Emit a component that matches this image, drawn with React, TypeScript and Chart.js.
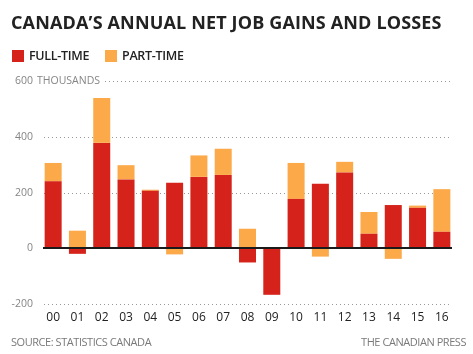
import React, { useEffect, useRef } from "react";
import { Chart, registerables } from "chart.js";

Chart.register(...registerables);

const years = ["00", "01", "02", "03", "04", "05", "06", "07", "08", "09", "10", "11", "12", "13", "14", "15", "16"];
const fullTime = [240, -20, 378, 247, 206, 235, 256, 263, -51, -167, 177, 231, 272, 52, 155, 145, 59];
const partTime = [66, 63, 161, 51, 4, -22, 77, 94, 70, 0, 129, -30, 38, 78, -38, 8, 153];
const yTicks = [-200, 0, 200, 400, 600];

const RED = "#d5221a";
const ORANGE = "#fca94a";
const FONT = "'Open Sans', 'DejaVu Sans', sans-serif";

const gridPlugin = {
  id: "customGrid",
  beforeDatasetsDraw(chart: any) {
    const { ctx } = chart;
    const y = chart.scales.y;
    ctx.save();
    ctx.strokeStyle = "#9a9a9a";
    ctx.lineWidth = 1;
    ctx.setLineDash([1, 3]);
    ctx.font = "10.5px " + FONT;
    ctx.fillStyle = "#858585";
    ctx.textBaseline = "middle";
    yTicks.forEach((v) => {
      const py = Math.round(y.getPixelForValue(v)) + 0.5;
      if (v !== 0) {
        const x0 = v === 600 ? 105 : 44;
        ctx.beginPath();
        ctx.moveTo(x0, py);
        ctx.lineTo(452, py);
        ctx.stroke();
      }
      ctx.textAlign = "right";
      ctx.fillText(String(v), 33, py);
      if (v === 600) {
        ctx.textAlign = "left";
        ctx.fillText("THOUSANDS", 37, py);
      }
    });
    ctx.restore();
  },
  afterDatasetsDraw(chart: any) {
    const { ctx } = chart;
    const y = chart.scales.y;
    const py = Math.round(y.getPixelForValue(0));
    ctx.save();
    ctx.strokeStyle = "#1a1a1a";
    ctx.lineWidth = 2;
    ctx.beginPath();
    ctx.moveTo(43, py);
    ctx.lineTo(452, py);
    ctx.stroke();
    ctx.restore();
  },
};

export default function App() {
  const ref = useRef<HTMLCanvasElement | null>(null);

  useEffect(() => {
    if (!ref.current) return;
    const chart = new Chart(ref.current, {
      type: "bar",
      data: {
        labels: years,
        datasets: [
          { label: "FULL-TIME", data: fullTime, backgroundColor: RED, stack: "s", barPercentage: 0.7, categoryPercentage: 1 },
          { label: "PART-TIME", data: partTime, backgroundColor: ORANGE, stack: "s", barPercentage: 0.7, categoryPercentage: 1 },
        ],
      },
      options: {
        responsive: false,
        animation: false,
        layout: { padding: { left: 41, right: 19, top: 81, bottom: 30 } },
        plugins: { legend: { display: false }, tooltip: { enabled: false }, title: { display: false } },
        scales: {
          x: {
            stacked: true,
            grid: { display: false, drawTicks: false },
            border: { display: false },
            ticks: { color: "#222", font: { size: 12, family: FONT }, padding: 6, maxRotation: 0, autoSkip: false },
            afterFit: (s: any) => { s.height = 20; },
          },
          y: {
            stacked: true,
            min: -200,
            max: 600,
            grid: { display: false, drawTicks: false },
            border: { display: false },
            ticks: { display: false, stepSize: 200 },
            afterFit: (s: any) => { s.width = 0; },
          },
        },
      },
      plugins: [gridPlugin],
    });
    return () => chart.destroy();
  }, []);

  const legendItem = (color: string, text: string, left: number) => (
    <div style={{ position: "absolute", left, top: 50, display: "flex", alignItems: "center" }}>
      <div style={{ width: 12, height: 12, background: color }} />
      <span style={{ marginLeft: 5, fontSize: 12.5, fontWeight: 600, color: "#222", lineHeight: "12px", letterSpacing: -0.3 }}>{text}</span>
    </div>
  );

  return (
    <div style={{ position: "fixed", left: 0, top: 0, width: 473, height: 354, background: "#fff", fontFamily: FONT, overflow: "hidden" }}>
      <canvas ref={ref} width={473} height={354} style={{ position: "absolute", left: 0, top: 0 }} />
      <div style={{ position: "absolute", left: 11, top: 10, fontSize: 18, fontWeight: 700, color: "#222", whiteSpace: "nowrap", lineHeight: "24px", letterSpacing: 0.15 }}>
        CANADA’S ANNUAL NET JOB GAINS AND LOSSES
      </div>
      {legendItem(RED, "FULL-TIME", 12)}
      {legendItem(ORANGE, "PART-TIME", 105)}
      <div style={{ position: "absolute", left: 11, top: 335, fontSize: 11, color: "#7a7a7a", lineHeight: "14px", letterSpacing: -0.45, whiteSpace: "nowrap" }}>SOURCE: STATISTICS CANADA</div>
      <div style={{ position: "absolute", right: 7, top: 335, fontSize: 11, color: "#7a7a7a", lineHeight: "14px", letterSpacing: -0.45, whiteSpace: "nowrap" }}>THE CANADIAN PRESS</div>
    </div>
  );
}
